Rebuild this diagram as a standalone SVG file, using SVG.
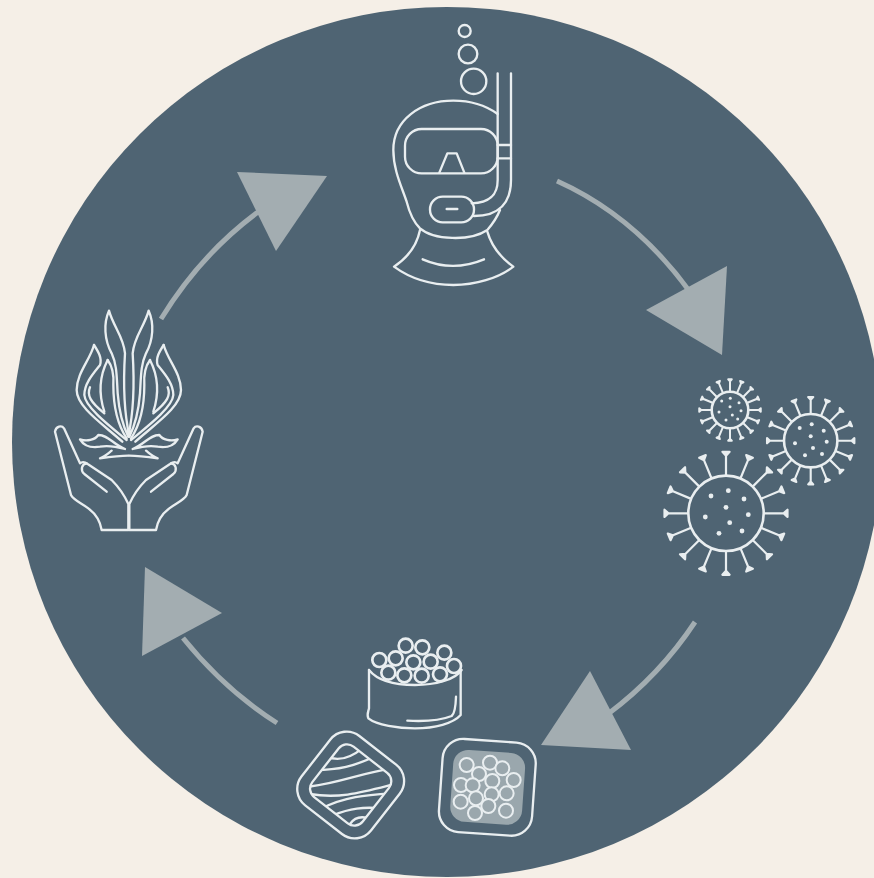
<svg xmlns="http://www.w3.org/2000/svg" xmlns:xlink="http://www.w3.org/1999/xlink" width="874" height="878" viewBox="0 0 874 878">
<style>
.ic{fill:none;stroke:#e9eef0;stroke-linecap:round;stroke-linejoin:round;stroke-width:7}
.line{fill:none;stroke:#a3adb1;stroke-width:5}
.head{fill:#a3adb1}
.bead{fill:#4f6473;stroke:#e9eef0;stroke-width:8}
.roe{fill:#9aa7ad;stroke:#e9eef0;stroke-width:6}
.dot{fill:#e9eef0;stroke:none}
</style>
<defs>
<g id="spike"><path d="M0,-37.7V-60M-3.6,-61.5L3.6,-61.5L0,-57.5Z"/></g>
<g id="spikes" fill="#e9eef0" stroke="#e9eef0" stroke-linejoin="round">
<use xlink:href="#spike"/>
<use xlink:href="#spike" transform="rotate(22.5)"/>
<use xlink:href="#spike" transform="rotate(45)"/>
<use xlink:href="#spike" transform="rotate(67.5)"/>
<use xlink:href="#spike" transform="rotate(90)"/>
<use xlink:href="#spike" transform="rotate(112.5)"/>
<use xlink:href="#spike" transform="rotate(135)"/>
<use xlink:href="#spike" transform="rotate(157.5)"/>
<use xlink:href="#spike" transform="rotate(180)"/>
<use xlink:href="#spike" transform="rotate(202.5)"/>
<use xlink:href="#spike" transform="rotate(225)"/>
<use xlink:href="#spike" transform="rotate(247.5)"/>
<use xlink:href="#spike" transform="rotate(270)"/>
<use xlink:href="#spike" transform="rotate(292.5)"/>
<use xlink:href="#spike" transform="rotate(315)"/>
<use xlink:href="#spike" transform="rotate(337.5)"/>
</g>
<g id="plant-half">
<path d="M253,408C238,340 235,240 240,160C236,110 205,80 192,32C175,70 178,120 200,160C216,195 215,230 218,280C222,330 235,380 250,410"/>
<path d="M147,135C135,180 95,220 95,270C95,320 170,370 232,425"/>
<path d="M147,135C160,155 172,175 165,195C145,220 118,250 118,285C120,320 190,375 245,420"/>
<path d="M135,262C125,285 135,305 178,340"/>
<path d="M188,180C203,200 207,225 205,255C205,305 215,370 245,415"/>
<path d="M188,180C165,225 160,280 178,335"/>
<path d="M240,447C200,430 190,405 160,405C150,420 125,425 105,418C115,435 130,445 165,440C190,435 215,440 240,447"/>
<path d="M165,475C180,470 190,460 200,452M165,475C200,470 230,467 250,467"/>
<path d="M250,690H170C165,660 150,640 130,625C110,610 85,600 78,585L30,395C33,378 50,375 57,385L105,490C112,484 120,486 128,492L200,540C225,565 240,590 250,612V690"/>
<path d="M185,575L118,522C105,510 110,492 125,490"/>
</g>
<clipPath id="flesh"><rect x="-96" y="-96" width="192" height="192" rx="32" transform="translate(197,465) rotate(38)"/></clipPath>
</defs>
<rect width="874" height="878" fill="#f5efe7"/>
<circle cx="447" cy="442" r="435" fill="#4f6473"/>
<g id="connectors">
<path class="line" d="M557,181Q635,216 690,292"/>
<polygon class="head" points="727,266 722,355 646,310"/>
<path class="line" d="M695,622Q660,675 608,714"/>
<polygon class="head" points="590,671 631,750 541,745"/>
<path class="line" d="M277,723Q225,690 183,638"/>
<polygon class="head" points="222,613 142,656 145,567"/>
<path class="line" d="M161,319Q200,255 258,212"/>
<polygon class="head" points="237,172 327,176 276,251"/>
</g>
<g id="diver" class="ic" transform="translate(370,10) scale(.33333)">
<circle cx="284" cy="63" r="18"/>
<circle cx="294" cy="132" r="28"/>
<circle cx="311" cy="214" r="38"/>
<path d="M383,190V510C383,550 365,578 305,580"/>
<path d="M423,190V510C423,575 390,618 312,618"/>
<path d="M383,405H423M383,445H423"/>
<path d="M383,312C345,285 300,272 250,272C150,272 70,330 70,420C70,480 95,530 110,575C120,615 135,640 150,655C190,690 300,695 352,660C365,645 380,625 390,600"/>
<rect x="105" y="357" width="278" height="133" rx="50"/>
<path d="M208,488L232,430H260L283,488"/>
<rect x="180" y="560" width="132" height="77" rx="38"/>
<path d="M230,597H262"/>
<path d="M150,660C140,710 110,745 72,770C120,805 185,825 250,825C315,825 385,805 430,770C395,745 365,710 352,665"/>
<path d="M158,748C220,775 285,772 342,748"/>
</g>
<g id="viruses">
<g class="ic" style="stroke-width:2.6">
<circle cx="726" cy="513.3" r="37.7"/>
<circle cx="810.7" cy="440.7" r="26.7"/>
<circle cx="730" cy="410" r="18.3"/>
</g>
<use xlink:href="#spikes" transform="translate(726,513.3)" stroke-width="2.2"/>
<use xlink:href="#spikes" transform="translate(810.7,440.7) scale(.71)" stroke-width="3"/>
<use xlink:href="#spikes" transform="translate(730,410) scale(.5)" stroke-width="4"/>
<g class="dot">
<circle cx="728.3" cy="490.7" r="2.4"/><circle cx="711" cy="496" r="2.4"/><circle cx="744" cy="499" r="2.4"/><circle cx="726" cy="507.3" r="2.4"/><circle cx="705.3" cy="517" r="2.4"/><circle cx="748.3" cy="514.7" r="2.4"/><circle cx="729.7" cy="522.7" r="2.4"/><circle cx="719" cy="533.3" r="2.4"/><circle cx="742" cy="531" r="2.4"/>
<circle cx="811.7" cy="424.3" r="2"/><circle cx="799.7" cy="428" r="2"/><circle cx="823.7" cy="430.7" r="2"/><circle cx="810.7" cy="436.3" r="2"/><circle cx="795" cy="443.3" r="2"/><circle cx="826.7" cy="441.7" r="2"/><circle cx="813" cy="448" r="2"/><circle cx="805" cy="455.3" r="2"/><circle cx="822" cy="454" r="2"/>
<circle cx="730.3" cy="398.3" r="1.5"/><circle cx="721.7" cy="401" r="1.5"/><circle cx="739" cy="402.7" r="1.5"/><circle cx="730" cy="406.7" r="1.5"/><circle cx="719" cy="412" r="1.5"/><circle cx="741" cy="410.7" r="1.5"/><circle cx="732.3" cy="415" r="1.5"/><circle cx="726" cy="420" r="1.5"/><circle cx="737.7" cy="419" r="1.5"/>
</g>
</g>
<g id="caviar-jar" class="ic" transform="translate(285,630) scale(.33333)">
<path d="M252,120V235C248,250 245,255 250,265C275,285 340,295 390,295C450,295 505,280 527,255V120"/>
<path d="M252,120C280,155 340,165 390,165C450,165 510,150 530,120"/>
<path d="M367,272C420,275 470,270 500,258C510,250 512,230 513,200"/>
<g class="bead">
<circle cx="362" cy="47" r="21"/><circle cx="412" cy="52" r="21"/><circle cx="478" cy="68" r="21"/><circle cx="283" cy="90" r="21"/><circle cx="507" cy="108" r="21"/><circle cx="332" cy="85" r="21"/><circle cx="437" cy="95" r="21"/><circle cx="385" cy="97" r="21"/><circle cx="310" cy="128" r="21"/><circle cx="465" cy="133" r="21"/><circle cx="358" cy="136" r="21"/><circle cx="410" cy="137" r="21"/>
</g>
</g>
<g id="salmon-tile" class="ic" transform="translate(285,630) scale(.33333)">
<rect x="-132" y="-132" width="264" height="264" rx="62" transform="translate(197,465) rotate(38)"/>
<rect x="-96" y="-96" width="192" height="192" rx="32" transform="translate(197,465) rotate(38)"/>
<g clip-path="url(#flesh)">
<path d="M90,420C160,420 205,410 280,375"/>
<path d="M70,470C160,460 225,430 320,415"/>
<path d="M65,490C160,510 240,485 330,462"/>
<path d="M110,535C180,500 240,495 320,490"/>
<path d="M145,555C195,535 235,530 290,535"/>
<path d="M195,582C210,560 235,558 260,568"/>
<path d="M125,380C160,395 195,385 232,355"/>
</g>
</g>
<g id="roe-tile" transform="translate(285,630) scale(.33333)">
<rect x="-140" y="-140" width="280" height="280" rx="62" transform="translate(607,472) rotate(4)" fill="none" stroke="#e9eef0" stroke-width="7"/>
<rect x="-108" y="-108" width="216" height="216" rx="45" transform="translate(608,472) rotate(4)" fill="#9aa7ad"/>
<g class="roe">
<circle cx="545" cy="405" r="21"/><circle cx="615" cy="398" r="21"/><circle cx="652" cy="415" r="21"/><circle cx="582" cy="432" r="21"/><circle cx="686" cy="450" r="21"/><circle cx="622" cy="453" r="21"/><circle cx="528" cy="465" r="21"/><circle cx="563" cy="466" r="21"/><circle cx="665" cy="490" r="21"/><circle cx="620" cy="493" r="21"/><circle cx="573" cy="505" r="21"/><circle cx="527" cy="515" r="21"/><circle cx="610" cy="528" r="21"/><circle cx="570" cy="549" r="21"/><circle cx="663" cy="542" r="21"/>
</g>
</g>
<g id="plant-hands" class="ic" transform="translate(45,300) scale(.33333)">
<use xlink:href="#plant-half"/>
<use xlink:href="#plant-half" transform="translate(503,0) scale(-1,1)"/>
</g>
</svg>
